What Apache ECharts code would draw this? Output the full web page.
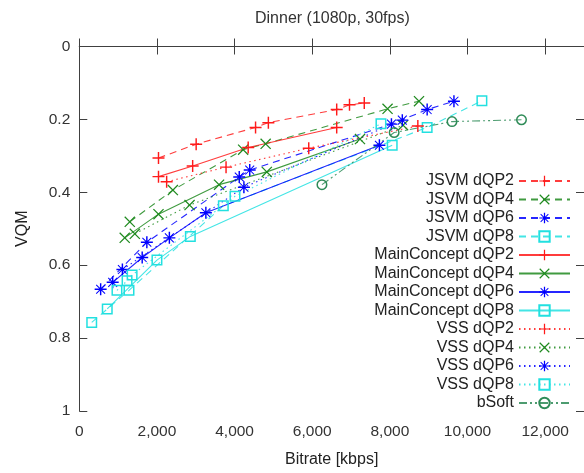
<!DOCTYPE html>
<html>
<head>
<meta charset="utf-8">
<script src="https://cdn.jsdelivr.net/npm/echarts@6/dist/echarts.min.js"></script>
<style>
html,body{margin:0;padding:0;background:#fff;}
#chart{width:584px;height:473px;}
</style>
</head>
<body>
<div id="chart"></div>
<script>
// ---- data (bitrate in kbps, VQM) ----
const seriesNames = ['JSVM dQP2','JSVM dQP4','JSVM dQP6','JSVM dQP8',
  'MainConcept dQP2','MainConcept dQP4','MainConcept dQP6','MainConcept dQP8',
  'VSS dQP2','VSS dQP4','VSS dQP6','VSS dQP8','bSoft'];

const jsvm2X = [2040, 3010, 4540, 4870, 6630, 6960, 7340];
const jsvm2Y = [0.306, 0.268, 0.222, 0.209, 0.173, 0.160, 0.155];
const jsvm4X = [1300, 2410, 4220, 4800, 7940, 8750];
const jsvm4Y = [0.481, 0.394, 0.283, 0.267, 0.171, 0.150];
const jsvm6X = [550, 1740, 4120, 4390, 8040, 8960, 9650];
const jsvm6Y = [0.666, 0.537, 0.358, 0.339, 0.213, 0.173, 0.150];
const jsvm8X = [320, 1280, 3710, 8960, 10370];
const jsvm8Y = [0.757, 0.669, 0.437, 0.222, 0.149];

const mc2X = [2040, 2920, 4350, 6630];
const mc2Y = [0.357, 0.328, 0.277, 0.222];
const mc4X = [1170, 2040, 3600, 4830, 7230];
const mc4Y = [0.525, 0.460, 0.379, 0.344, 0.254];
const mc6X = [860, 1620, 2320, 3260, 7730];
const mc6Y = [0.647, 0.579, 0.525, 0.456, 0.271];
const mc8X = [720, 2000, 2860, 8060];
const mc8Y = [0.720, 0.586, 0.521, 0.271];

const vss2X = [2250, 3780, 5910, 8720];
const vss2Y = [0.371, 0.331, 0.279, 0.218];
const vss4X = [1430, 2840, 8340];
const vss4Y = [0.514, 0.435, 0.216];
const vss6X = [1110, 4240, 8320];
const vss6Y = [0.612, 0.386, 0.202];
const vss8X = [970, 1230, 1360, 4010, 7770];
const vss8Y = [0.669, 0.643, 0.627, 0.411, 0.212];

const bsoftX = [6250, 8110, 9600, 11390];
const bsoftY = [0.379, 0.236, 0.206, 0.201];

const xTicks = [0, 2000, 4000, 6000, 8000, 10000, 12000];
const yTicks = [0, 0.2, 0.4, 0.6, 0.8, 1];

// ---- styles ----
const FONT = 'Liberation Sans, Arial, sans-serif';
const RED = '#ff1a1a', GREEN = '#1f8a1f', BLUE = '#0000ff', CYAN = '#22e0e0', SEA = '#2e8b57';
const PLUS = 'path://M0,4.4H10V5.6H0Z M4.4,0H5.6V10H4.4Z';
const CROSS = 'path://M0,0.8L0.8,0L10,9.2L9.2,10Z M9.2,0L10,0.8L0.8,10L0,9.2Z';
const STAR = 'path://M0,4.4H10V5.6H0Z M4.4,0H5.6V10H4.4Z M1,1.6L1.6,1L9,8.4L8.4,9Z M8.4,1L9,1.6L1.6,9L1,8.4Z';
const DASH = [7, 5], DOT = [1.5, 3.5], DASHDOTDOT = [8, 3, 2, 3, 2, 3];

function zip(xs, ys){ return xs.map((x,i)=>[x, ys[i]]); }

function mk(name, xs, ys, color, symbol, size, dash, hollow){
  return {
    name, type:'line', data: zip(xs, ys),
    symbol, symbolSize: size, showSymbol: true,
    lineStyle: {color, width: 1.1, type: dash, opacity: 0.85},
    itemStyle: hollow ? {color: 'rgba(255,255,255,0)', borderColor: color, borderWidth: 1.5}
                      : {color, borderWidth: 0},
    emphasis: {disabled: true},
    z: 3
  };
}

const series = [
  mk('JSVM dQP2', jsvm2X, jsvm2Y, RED, PLUS, 12, DASH),
  mk('JSVM dQP4', jsvm4X, jsvm4Y, GREEN, CROSS, 11, DASH),
  mk('JSVM dQP6', jsvm6X, jsvm6Y, BLUE, STAR, 12, DASH),
  mk('JSVM dQP8', jsvm8X, jsvm8Y, CYAN, 'rect', 9.5, DASH, true),
  mk('MainConcept dQP2', mc2X, mc2Y, RED, PLUS, 12, 'solid'),
  mk('MainConcept dQP4', mc4X, mc4Y, GREEN, CROSS, 11, 'solid'),
  mk('MainConcept dQP6', mc6X, mc6Y, BLUE, STAR, 12, 'solid'),
  mk('MainConcept dQP8', mc8X, mc8Y, CYAN, 'rect', 9.5, 'solid', true),
  mk('VSS dQP2', vss2X, vss2Y, RED, PLUS, 12, DOT),
  mk('VSS dQP4', vss4X, vss4Y, GREEN, CROSS, 11, DOT),
  mk('VSS dQP6', vss6X, vss6Y, BLUE, STAR, 12, DOT),
  mk('VSS dQP8', vss8X, vss8Y, CYAN, 'rect', 9.5, DOT, true),
  mk('bSoft', bsoftX, bsoftY, SEA, 'circle', 9.5, DASHDOTDOT, true)
];

function commas(v){ return String(v).replace(/\B(?=(\d{3})+(?!\d))/g, ','); }

const axisLineStyle = {color: '#404040', width: 1};

const chart = echarts.init(document.getElementById('chart'), null, {renderer: 'canvas'});
chart.setOption({
  animation: false,
  backgroundColor: '#fff',
  textStyle: {fontFamily: FONT},
  title: {
    text: 'Dinner (1080p, 30fps)',
    left: 255, top: 11, padding: 0,
    textStyle: {fontFamily: FONT, fontSize: 16, fontWeight: 'normal', color: '#333'}
  },
  grid: {left: 79.3, top: 46.5, width: 507.7, height: 371.5, containLabel: false},
  legend: {
    data: seriesNames,
    orient: 'vertical',
    right: 13, top: 173, padding: 0,
    align: 'right',
    itemWidth: 51, itemHeight: 13, itemGap: 2.5,
    selectedMode: false,
    formatter: n => '{t|' + n + '}',
    textStyle: {
      fontFamily: FONT, color: '#222',
      rich: {t: {width: 150, align: 'right', fontSize: 16, lineHeight: 16, fontFamily: FONT, color: '#222'}}
    }
  },
  xAxis: [{
    type: 'value', min: 0, max: 13000, interval: 2000,
    name: 'Bitrate [kbps]', nameLocation: 'middle', nameGap: 41,
    nameTextStyle: {fontFamily: FONT, fontSize: 16, color: '#222'},
    axisLine: {show: true, lineStyle: axisLineStyle},
    axisTick: {show: true, inside: true, length: 8, lineStyle: axisLineStyle},
    axisLabel: {show: true, margin: 13, fontFamily: FONT, fontSize: 15.5, color: '#333',
      showMaxLabel: false,
      formatter: v => xTicks.indexOf(v) >= 0 ? commas(v) : ''},
    splitLine: {show: false}
  }, {
    type: 'value', position: 'top', min: 0, max: 13000, interval: 2000,
    axisLine: {show: true, onZero: false, lineStyle: axisLineStyle},
    axisTick: {show: true, inside: true, length: 8, lineStyle: axisLineStyle},
    axisLabel: {show: false}, splitLine: {show: false}
  }],
  yAxis: [{
    type: 'value', min: 0, max: 1, interval: 0.2, inverse: true,
    name: 'VQM', nameLocation: 'middle', nameGap: 49, nameRotate: 90,
    nameTextStyle: {fontFamily: FONT, fontSize: 16, color: '#222'},
    axisLine: {show: true, lineStyle: axisLineStyle},
    axisTick: {show: true, inside: true, length: 8, lineStyle: axisLineStyle},
    axisLabel: {show: true, margin: 9, fontFamily: FONT, fontSize: 15.5, color: '#333',
      formatter: v => {
        const t = yTicks.find(k => Math.abs(k - v) < 1e-9);
        return t === undefined ? '' : (t === 0 ? '0' : t === 1 ? '1' : t.toFixed(1));
      }},
    splitLine: {show: false}
  }, {
    type: 'value', position: 'right', min: 0, max: 1, interval: 0.2, inverse: true,
    axisLine: {show: true, onZero: false, lineStyle: axisLineStyle},
    axisTick: {show: true, inside: true, length: 8, lineStyle: axisLineStyle},
    axisLabel: {show: false}, splitLine: {show: false}
  }],
  series
});
</script>
</body>
</html>
